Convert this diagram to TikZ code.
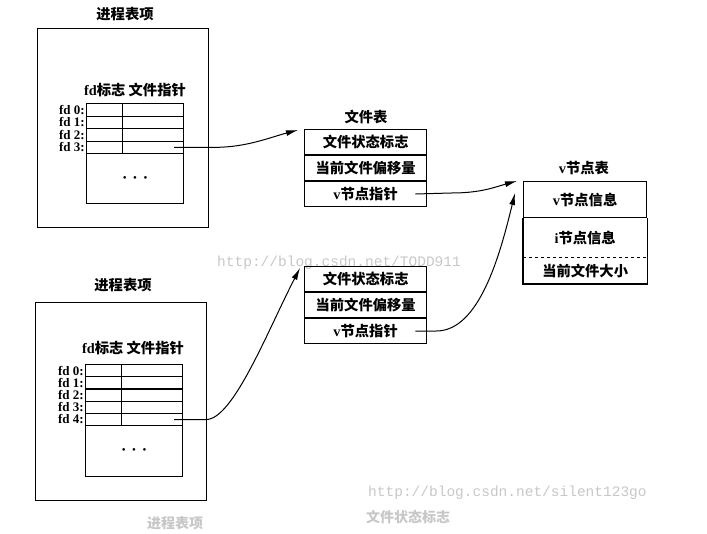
\documentclass[tikz,border=0pt]{standalone}
\usepackage{fontspec}
\setmainfont{Noto Sans CJK SC}
\newfontfamily\latfont{Liberation Serif}
\newfontfamily\wmfont{Liberation Mono}
\usetikzlibrary{arrows.meta,positioning,calc}
\newcommand\ltn[1]{{\latfont\bfseries #1}}
\newcommand\tdots{{\latfont\fontsize{11}{11}\selectfont •\hspace{6.5pt}•\hspace{6.5pt}•}}
\tikzset{
  frame/.style={draw=black, line width=1.3pt, inner sep=0pt},
  cell/.style={draw=black, line width=1.2pt, inner sep=0pt, minimum height=12.5pt},
  row/.style={draw=black, line width=1.3pt, inner sep=0pt, minimum width=122pt, minimum height=24.7pt, font=\fontsize{14.3}{16}\selectfont\bfseries},
  title/.style={inner sep=0pt, font=\fontsize{14.3}{16}\selectfont\bfseries},
  fdlabel/.style={inner sep=0pt, anchor=east, font=\fontsize{13}{13}\latfont\bfseries},
  ptr/.style={-{Latex[length=12pt,width=6pt]}, line width=1pt},
  wmtext/.style={text=black!22, inner sep=0pt}
}

\begin{document}
\begin{tikzpicture}[x=1pt, y=-1pt, node distance=0pt]
\useasboundingbox (0,0) rectangle (707,533);

% watermarks
\node[wmtext, anchor=west, font=\fontsize{14.5}{15}\wmfont] (wmA) at (217,263) {http://blog.csdn.net/TODD911};
\node[wmtext, anchor=west, font=\fontsize{14.5}{15}\wmfont] (wmB) at (368,493) {http://blog.csdn.net/silent123go};
\node[wmtext, font=\fontsize{14}{16}\selectfont\bfseries] (ghostA) at (175,523) {进程表项};
\node[wmtext, font=\fontsize{14}{16}\selectfont\bfseries] (ghostB) at (408,517) {文件状态标志};

% process table entry, top
\node[title] (procAtitle) at (125,14) {进程表项};
\node[frame, anchor=north west, minimum width=171pt, minimum height=199pt] (procA) at (37,28) {};
\node[title] (headA) at (135,90) {\ltn{fd}标志\ 文件指针};
\foreach \i in {0,...,3} {
  \node[cell, anchor=north west, minimum width=36pt] (flagA\i) at (86,{103+12.5*\i}) {};
  \node[cell, anchor=north west, minimum width=61pt] (ptrA\i) at (122,{103+12.5*\i}) {};
  \node[fdlabel] at ($(flagA\i.west)+(-1,0)$) {fd \i:};
}
\node[cell, anchor=north west, minimum width=97pt, minimum height=50pt] (restA) at (86,153) {\tdots};
\coordinate (srcA) at ($(ptrA3.east)+(-10,0)$);

% process table entry, bottom
\node[title] (procBtitle) at (123,285) {进程表项};
\node[frame, anchor=north west, minimum width=171pt, minimum height=198pt] (procB) at (35,302) {};
\node[title] (headB) at (133,348) {\ltn{fd}标志\ 文件指针};
\foreach \i in {0,...,4} {
  \node[cell, anchor=north west, minimum width=36pt, minimum height=12.2pt] (flagB\i) at (85,{364+12.2*\i}) {};
  \node[cell, anchor=north west, minimum width=61pt, minimum height=12.2pt] (ptrB\i) at (121,{364+12.2*\i}) {};
  \node[fdlabel] at ($(flagB\i.west)+(-1,0)$) {fd \i:};
}
\node[cell, anchor=north west, minimum width=97pt, minimum height=51pt] (restB) at (85,425) {\tdots};
\coordinate (srcB) at ($(ptrB4.east)+(-9,0)$);

% file table entries
\node[title] (ftAtitle) at (366,117) {文件表};
\node[row, anchor=north west] (fsA) at (304,129) {文件状态标志};
\node[row, below=of fsA] (offA) {当前文件偏移量};
\node[row, below=of offA] (vptrA) {\ltn{v}节点指针};

\node[row, anchor=north west] (fsB) at (304,266) {文件状态标志};
\node[row, below=of fsB] (offB) {当前文件偏移量};
\node[row, below=of offB] (vptrB) {\ltn{v}节点指针};

% v-node table
\node[title] (vtitle) at (584,168) {\ltn{v}节点表};
\node[row, anchor=north west, minimum width=123pt, minimum height=36pt] (vinfo) at (523,181) {\ltn{v}节点信息};
\node[row, draw=none, below=of vinfo, minimum width=123pt, minimum height=38pt] (iinfo) {\ltn{i}节点信息};
\node[row, draw=none, below=of iinfo, minimum width=123pt, minimum height=25pt] (fsize) {当前文件大小};
\draw[line width=1.3pt] (iinfo.north west) -- (fsize.south west) -- (fsize.south east) -- (iinfo.north east);
\draw[line width=1.1pt, dashed] (iinfo.south west) -- (iinfo.south east);

% pointers
\draw[ptr] (srcA) -- ++(40,0) .. controls +(32,0) and +(-30,8) .. ($(fsA.north west)+(-6,1)$);
\draw[ptr] (srcB) -- ++(32,0) .. controls +(27,0) and +(-32,62) .. ($(fsB.north west)+(-4,2)$);
\draw[ptr] ($(vptrA.east)+(-12,0)$) -- ++(36,-1) .. controls +(30,0) and +(-22,6) .. ($(vinfo.north west)+(-6,0)$);
\draw[ptr] ($(vptrB.east)+(-12,0)$) -- ++(21,0) .. controls +(43,0) and +(-15,62) .. ($(vinfo.north west)+(-8,12)$);
\end{tikzpicture}
\end{document}
